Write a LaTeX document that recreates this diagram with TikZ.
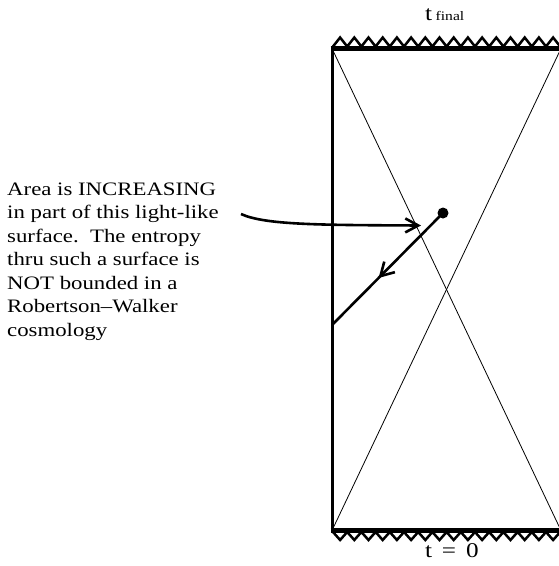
\documentclass[tikz,border=0pt]{standalone}
\usepackage{fontspec}
\setmainfont[FakeStretch=1.2]{Liberation Serif}
\usetikzlibrary{arrows.meta,decorations.markings}
\begin{document}
\begin{tikzpicture}[x=1pt,y=-1pt,
  band/.style={line width=4.5pt},
  wall/.style={line width=3pt},
  zig/.style={line width=2.5pt,line join=miter},
  ray/.style={line width=0.8pt},
  heavy/.style={line width=2.6pt},
  barb/.style={-{Straight Barb[length=13pt,width=14pt]}},
  midbarb/.style={postaction={decorate},decoration={markings,
     mark=at position 0.58 with {\arrow{Straight Barb[length=13pt,width=15pt]}}}},
  lbl/.style={inner sep=0pt}]
\useasboundingbox (0,0) rectangle (559,566);
\clip (0,0) rectangle (559,566);
% corners
\coordinate (tl) at (332,48.5);
\coordinate (tr) at (561,48.5);
\coordinate (bl) at (332,530.5);
\coordinate (br) at (561,530.5);
% light rays
\draw[ray] (tl) -- (br);
\draw[ray] (tr) -- (bl);
% boundaries
\draw[band] ([xshift=-1.5pt]tl) -- ([xshift=3pt]tr);
\draw[band] ([xshift=-1.5pt]bl) -- ([xshift=3pt]br);
\draw[wall] (tl) -- (bl);
% singular zigzags
\draw[zig] (333,46.5) \foreach \i in {0,...,16} { -- ++(7.1,-9) -- ++(7.1,9)};
\draw[zig] (333,532) \foreach \i in {0,...,16} { -- ++(7.1,8) -- ++(7.1,-8)};
% labels
\node[lbl,anchor=base west] (tfinal) at (425,20) {\fontsize{21}{24}\selectfont t\,\fontsize{13}{15}\selectfont final};
\node[lbl,anchor=base west] (tzero) at (425,557) {\fontsize{21}{24}\selectfont t\, =\, 0};
% point and light-like surface
\node[circle,fill,inner sep=0pt,minimum size=11pt] (dot) at (443,213) {};
\coordinate (lend) at (332,325);
\draw[heavy,midbarb] (dot.center) -- (lend);
% text
\node[lbl,anchor=north west,align=left,font=\fontsize{19}{23.5}\selectfont] (txt) at (7,182.5)
 {Area is INCREASING\\in part of this light-like\\surface.\ \ The entropy\\thru such a surface is\\NOT bounded in a\\Robertson--Walker\\cosmology};
\coordinate (c1) at (241,214);
\coordinate (a1) at (421,225.5);
\draw[heavy,barb] (c1) .. controls (265,225) and (320,225) .. (a1);
\end{tikzpicture}
\end{document}
